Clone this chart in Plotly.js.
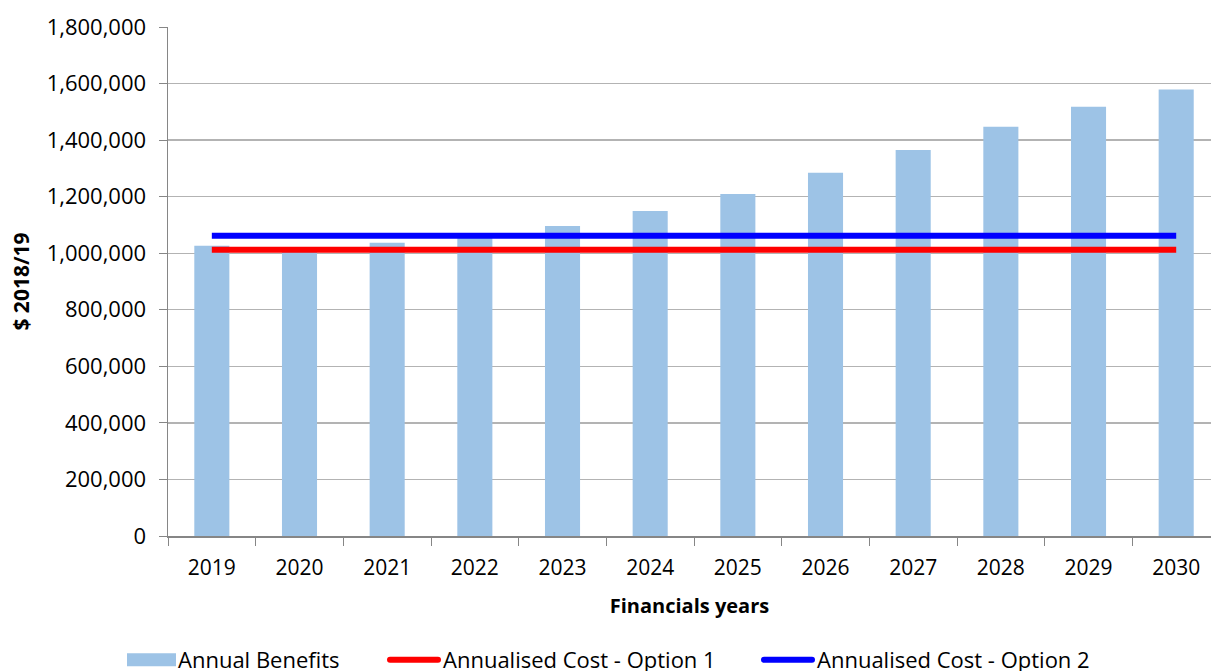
<!DOCTYPE html>
<html>
<head>
<meta charset="utf-8">
<script src="https://cdn.plot.ly/plotly-3.0.1.min.js"></script>
<style>html,body{margin:0;padding:0;background:#fff;}#chart{width:1211px;height:671px;}</style>
</head>
<body>
<div id="chart"></div>
<script>
const years = ['2019','2020','2021','2022','2023','2024','2025','2026','2027','2028','2029','2030'];
const annualBenefits = [1026000, 1008000, 1037000, 1058000, 1096000, 1149000, 1209000, 1285000, 1365000, 1447000, 1518000, 1579000];
const costOption1 = [1012000, 1012000, 1012000, 1012000, 1012000, 1012000, 1012000, 1012000, 1012000, 1012000, 1012000, 1012000];
const costOption2 = [1062000, 1062000, 1062000, 1062000, 1062000, 1062000, 1062000, 1062000, 1062000, 1062000, 1062000, 1062000];
const seriesNames = ['Annual Benefits', 'Annualised Cost - Option 1', 'Annualised Cost - Option 2'];

const FONT = '"Open Sans", "Noto Sans", sans-serif';
const W = 1211, H = 671;

const traces = [
  {type:'bar', x: years, y: annualBenefits, name: seriesNames[0], legend:'legend',
   marker:{color:'#9dc3e6', line:{width:0}}, width:0.4, hoverinfo:'skip'},
  {type:'scatter', mode:'lines', x: years, y: costOption1, name: seriesNames[1], legend:'legend2',
   line:{color:'#ff0000', width:6}, hoverinfo:'skip'},
  {type:'scatter', mode:'lines', x: years, y: costOption2, name: seriesNames[2], legend:'legend3',
   line:{color:'#0000ff', width:6}, hoverinfo:'skip'}
];

function legendAt(px) {
  return {orientation:'h', xref:'container', yref:'container', x: px / W, xanchor:'left',
          y: 0, yanchor:'bottom', bgcolor:'rgba(0,0,0,0)',
          font:{family:FONT, size:22, color:'#000'}};
}

const layout = {
  width:W, height:H,
  margin:{l:168, r:0, t:27, b:134.5, pad:0},
  paper_bgcolor:'#ffffff', plot_bgcolor:'#ffffff',
  font:{family:FONT, size:22, color:'#000000'},
  showlegend:true,
  legend: legendAt(138),
  legend2: legendAt(403),
  legend3: legendAt(777),
  xaxis:{type:'category', range:[-0.5, 11.397], showgrid:false, zeroline:false,
         showline:true, linecolor:'#868686', linewidth:1.5,
         ticks:'outside', tickson:'boundaries', ticklen:8, tickcolor:'#868686', tickwidth:1,
         ticklabelstandoff:12,
         tickfont:{family:FONT, size:21, color:'#000'},
         title:{text:'<b>Financials years</b>', font:{family:FONT, size:20, color:'#000'}, standoff:19}},
  yaxis:{range:[0,1800000], dtick:200000, tick0:0, tickformat:',d',
         showgrid:true, gridcolor:'#b3b3b3', gridwidth:1.3, zeroline:false,
         showline:true, linecolor:'#868686', linewidth:1.5,
         ticks:'outside', ticklen:8, tickcolor:'#868686', tickwidth:1,
         ticklabelstandoff:8,
         tickfont:{family:FONT, size:22, color:'#000'},
         title:{text:'<b>$ 2018/19</b>', font:{family:FONT, size:21, color:'#000'}, standoff:11}}
};

Plotly.newPlot('chart', traces, layout, {displayModeBar:false, staticPlot:true}).then(function(gd){
  // cosmetic: longer legend keys and a slightly lower legend row, as in the reference
  var groups = Array.prototype.filter.call(gd.querySelectorAll('g'), function(g){
    var c = g.getAttribute('class') || '';
    return /^legend\d*$/.test(c.trim());
  });
  groups.forEach(function(lg){
    var t = lg.getAttribute('transform') || '';
    var m = t.match(/translate\(\s*([-\d.]+)[ ,]+([-\d.]+)\s*\)/);
    if (m) lg.setAttribute('transform', 'translate(' + m[1] + ',' + (parseFloat(m[2]) + 10) + ')');
    lg.querySelectorAll('[clip-path]').forEach(function(e){ e.removeAttribute('clip-path'); });
    lg.querySelectorAll('.traces path').forEach(function(p){
      var d = (p.getAttribute('d') || '').replace(/\s/g,'');
      if (!d) return;
      if (/Z$/i.test(d)) {
        p.setAttribute('d', 'M-31,6.5H18V-6.5H-31Z');
      } else if (/^M5,0h30/i.test(d)) {
        p.setAttribute('d', 'M-13,0H35');
        p.style.strokeLinecap = 'round';
      }
    });
  });
});
</script>
</body>
</html>
